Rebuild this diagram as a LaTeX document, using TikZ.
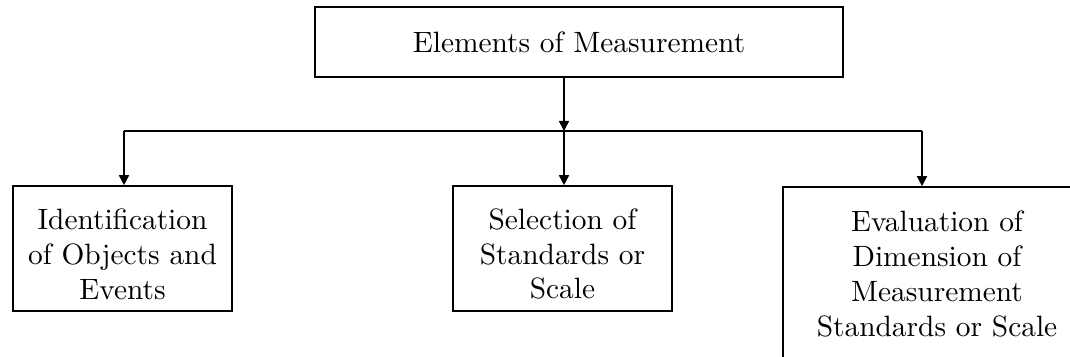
\documentclass[tikz,border=0pt]{standalone}
\usepackage{fontspec}
\usetikzlibrary{arrows.meta}
\newfontfamily\boxfont{lmroman10-regular.otf}
\begin{document}
\begin{tikzpicture}[
  x=0.5pt, y=-0.5pt,
  box/.style={draw, line width=0.8pt, align=center, inner sep=0pt, font=\boxfont\fontsize{14.7}{17.4}\selectfont},
  link/.style={line width=0.8pt, -{Triangle[length=5pt, width=5pt]}},
]
  \clip (0, 0) rectangle (1070, 357);

  \node[box, line width=1.1pt, minimum width=264pt, minimum height=35pt] (elements) at (579, 42) {Elements of Measurement};
  \node[box, minimum width=109.5pt, minimum height=62.5pt] (ident) at (122.5, 248.5) {\rule{0pt}{16pt}Identification\\of Objects and\\Events};
  \node[box, minimum width=109.5pt, minimum height=62.5pt] (select) at (562.5, 248.5) {\rule{0pt}{16pt}Selection of\\Standards or\\Scale};
  \node[box, minimum width=154pt, minimum height=87pt] (evalu) at (937, 274) {Evaluation of\\Dimension of\\Measurement\\Standards or Scale};

  \coordinate (barL) at (124, 131);
  \coordinate (hub) at (564, 131);
  \coordinate (barR) at (922, 131);

  \draw[link] (elements.south -| hub) -- (hub);
  \draw[line width=0.8pt] (barL) -- (barR);
  \draw[link] (barL) -- (barL |- ident.north);
  \draw[link] (hub) -- (hub |- select.north);
  \draw[link] (barR) -- (barR |- evalu.north);
\end{tikzpicture}
\end{document}
